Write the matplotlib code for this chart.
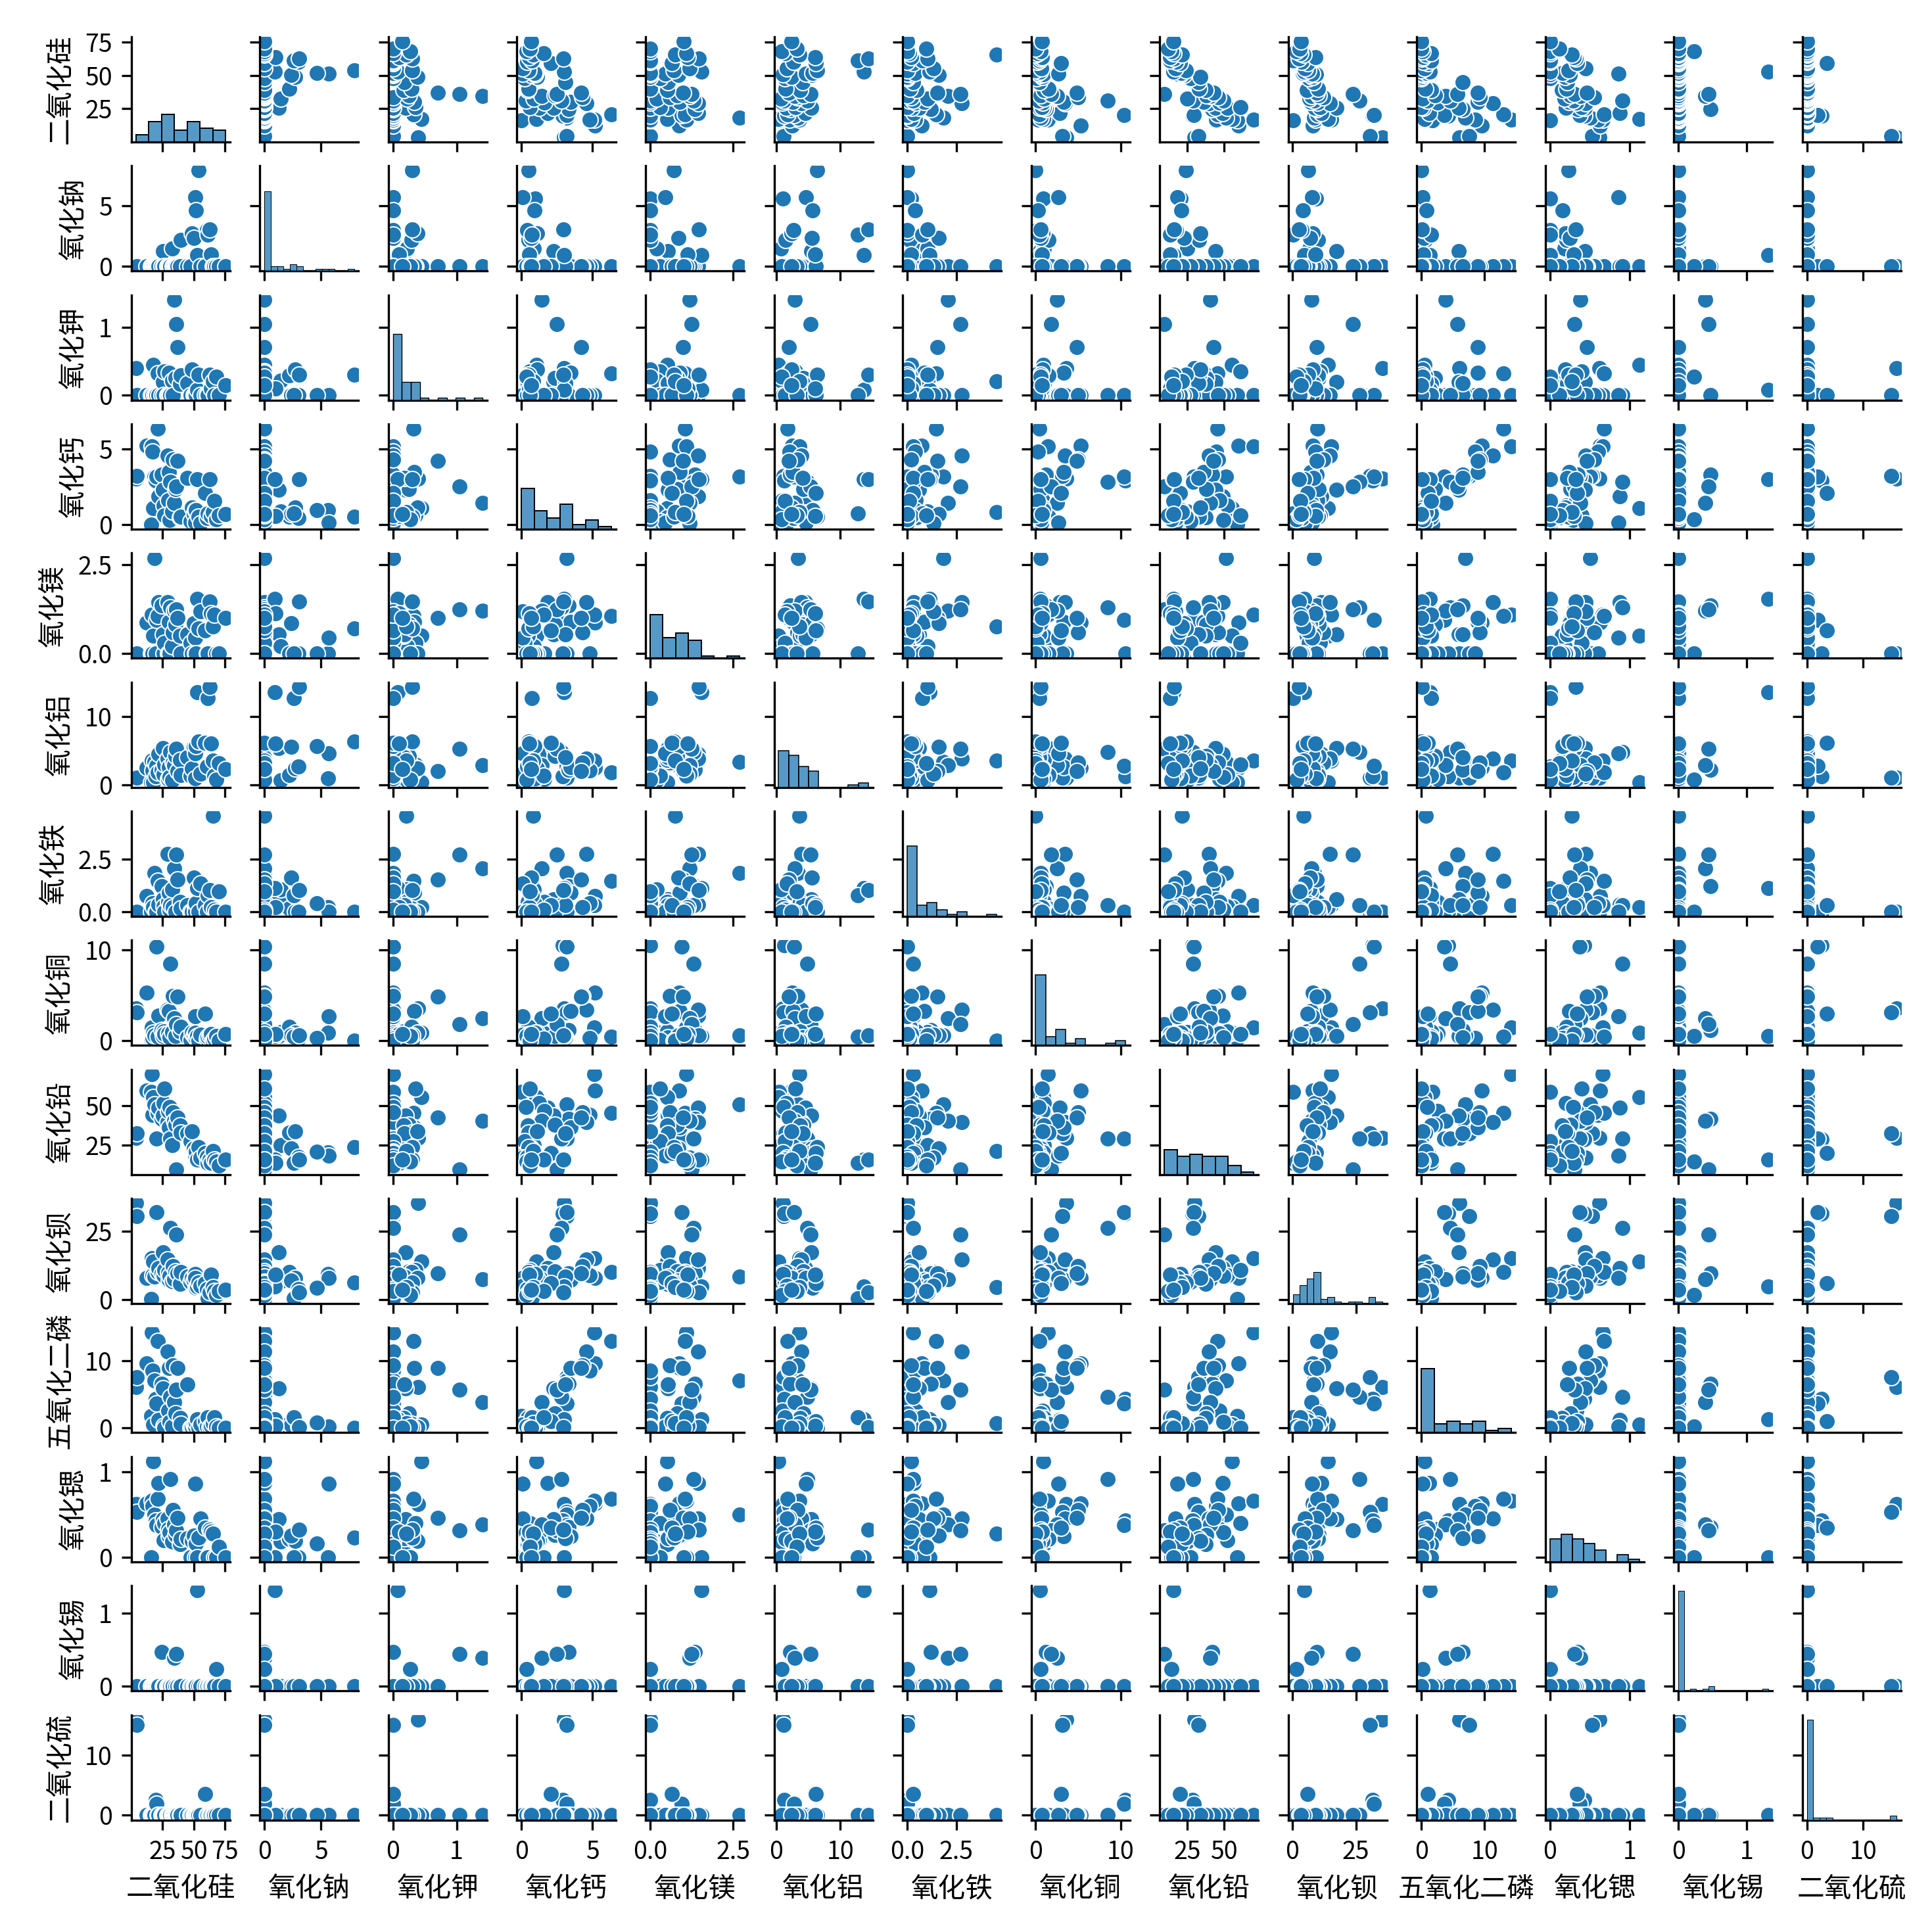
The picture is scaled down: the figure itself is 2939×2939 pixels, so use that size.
import pandas as pd
import seaborn as sns
import matplotlib
matplotlib.use("Agg")
import matplotlib.pyplot as plt

# 铅钡玻璃 化学成分 (49 个采样点, 空缺记为 0)
二氧化硅 = [3.72, 4.61, 12.2, 16.6, 16.2, 17.0, 17.5, 18.4, 19.8, 20.1, 21.0, 22.0, 24.6, 25.5, 25.9, 26.4, 29.1,
         29.6, 30.0, 30.9, 31.3, 32.7, 33.5, 34.4, 35.3, 36.2, 37.1, 38.9, 39.8, 45.1, 47.8, 48.7, 50.4, 51.0,
         51.3, 51.7, 53.0, 53.8, 55.3, 59.3, 60.5, 61.1, 62.9, 63.8, 65.6, 66.5, 68.2, 70.0, 75.5]
氧化钠 = [0, 0, 0, 0, 0, 0, 0, 0, 0, 0, 0, 0, 0, 1.26, 0, 0, 0, 0, 0, 0, 0, 1.45, 0, 0, 0, 0, 0, 0, 2.2, 0, 0,
       2.7, 2.35, 5.6, 5.7, 4.64, 0.9, 7.92, 0, 0, 3.0, 2.6, 3.05, 0.95, 0, 0, 0, 0, 0]
氧化钾 = [0.40, 0, 0, 0, 0, 0, 0.45, 0, 0, 0, 0.32, 0, 0, 0.20, 0, 0.35, 0, 0, 0.33, 0, 0, 0.22, 0, 1.41, 0.25,
       1.05, 0.71, 0.17, 0.29, 0.18, 0, 0.38, 0, 0, 0, 0, 0.08, 0.30, 0, 0, 0, 0, 0.30, 0.10, 0.21, 0, 0.27, 0,
       0.15]
氧化钙 = [3.01, 3.19, 5.18, 5.15, 0, 4.8, 1.05, 3.16, 2.9, 3.16, 6.32, 1.84, 3.3, 2.27, 1.25, 0.6, 4.55, 1.6, 3.46,
       0.3, 2.8, 0.85, 4.3, 1.4, 2.35, 2.5, 4.19, 0.45, 0.51, 3.09, 0.2, 1.1, 0.7, 0.95, 0.1, 0.92, 3.0, 0.5,
       0.07, 2.06, 0.4, 0.74, 2.97, 0.55, 0.8, 1.54, 0.35, 0.6, 0.66]
氧化镁 = [0, 0, 0.88, 1.10, 0, 0, 0.51, 2.70, 0, 0.95, 1.05, 1.45, 1.35, 0.54, 0, 0.3, 1.45, 0, 0.9, 0, 1.3, 0.2,
       0.6, 1.2, 0.82, 1.25, 1.0, 0.51, 0, 0.54, 0.3, 0, 0.85, 0, 0.45, 0, 1.55, 0.71, 1.19, 0.65, 0, 0, 1.47,
       1.13, 0.76, 1.1, 0, 0, 1.01]
氧化铝 = [1.06, 1.11, 2.5, 3.6, 0.45, 2.1, 0.37, 3.4, 1.3, 2.8, 1.8, 4.5, 2.2, 5.4, 1.6, 3.0, 3.9, 0.9, 2.6, 1.2,
       4.8, 0.7, 3.3, 2.9, 4.2, 5.3, 2.0, 3.7, 1.5, 4.1, 1.4, 2.4, 5.6, 1.0, 4.6, 5.7, 13.6, 6.4, 1.7, 6.2, 2.7,
       12.7, 14.34, 6.1, 3.6, 1.4, 0.8, 3.2, 2.35]
氧化铁 = [0, 0, 0.73, 0.3, 0, 0.4, 0.2, 1.86, 0, 0, 1.48, 0.35, 1.21, 0.6, 0.25, 0, 2.77, 0.45, 0.89, 0.1, 0.3,
       1.05, 0.2, 2.07, 0, 2.72, 1.54, 0.46, 0.15, 0.3, 0, 0, 1.62, 0.2, 0, 0.4, 1.13, 0, 1.34, 0.3, 0, 0.78,
       1.03, 0.2, 4.57, 0.1, 0, 0.98, 0]
氧化铜 = [3.6, 3.14, 5.34, 1.46, 0.2, 0.3, 0.9, 0.6, 10.56, 10.41, 0.45, 2.8, 1.2, 0.5, 1.0, 0.7, 3.45, 0.8, 3.3,
       0.35, 8.5, 0.95, 4.98, 2.5, 0.55, 1.8, 4.85, 1.0, 1.5, 0.4, 0.1, 0.85, 0.6, 0.9, 2.67, 0.3, 0.5, 0, 0.65,
       3.0, 0.2, 0.45, 0.6, 0.73, 0, 0.25, 0.55, 0, 0.73]
氧化铅 = [29.9, 32.5, 59.9, 70.2, 58.9, 44.5, 55.4, 51.1, 28.7, 29.5, 45.5, 49.0, 41.9, 44.1, 52.0, 61.0, 39.8,
       47.0, 36.3, 49.5, 29.2, 25.0, 46.0, 40.5, 38.0, 9.5, 42.8, 37.5, 33.0, 32.8, 27.5, 34.0, 22.9, 20.5, 18.6,
       21.0, 15.8, 24.0, 17.0, 20.0, 17.5, 13.7, 16.0, 13.7, 21.5, 15.8, 14.5, 12.0, 15.8]
氧化钡 = [35.45, 30.62, 8.0, 15.2, 0.2, 9.0, 14.0, 8.5, 31.6, 32.1, 10.0, 11.5, 9.5, 17.3, 8.8, 10.9, 14.8, 9.8,
       7.2, 8.6, 26.4, 6.8, 12.2, 7.5, 10.4, 23.8, 9.6, 5.7, 10.2, 8.4, 6.5, 8.0, 7.0, 9.3, 7.8, 4.2, 4.8, 6.3,
       5.0, 6.0, 3.8, 0.3, 2.65, 9.2, 4.5, 3.1, 1.5, 3.0, 3.5]
五氧化二磷 = [6.04, 7.56, 9.6, 14.2, 1.8, 8.5, 0.5, 7.0, 4.3, 3.6, 12.95, 1.2, 6.56, 5.9, 0.3, 0, 11.3, 2.6, 8.9,
         0.9, 4.6, 0.2, 9.3, 3.8, 2.2, 5.7, 8.9, 1.5, 0.6, 6.5, 0, 0.15, 0.4, 0, 0.2, 0.8, 1.3, 0, 0.5, 1.0, 0.25,
         1.6, 0.1, 0.3, 0.7, 1.6, 0.2, 0, 0]
氧化锶 = [0.62, 0.53, 0.63, 0.66, 0, 0.6, 1.12, 0.5, 0.43, 0.37, 0.68, 0.87, 0.35, 0.44, 0.2, 0.4, 0.45, 0.33,
       0.24, 0.29, 0.91, 0.18, 0.55, 0.38, 0.26, 0.31, 0.46, 0.15, 0.21, 0.22, 0, 0.19, 0.25, 0, 0.86, 0.16, 0,
       0.23, 0.45, 0.34, 0, 0, 0.32, 0.30, 0.27, 0, 0, 0.12, 0]
氧化锡 = [0, 0, 0, 0, 0, 0, 0, 0, 0, 0, 0, 0, 0.47, 0, 0, 0, 0, 0, 0, 0, 0, 0, 0, 0.39, 0, 0.44, 0, 0, 0, 0, 0, 0,
       0, 0, 0, 0, 1.31, 0, 0, 0, 0, 0, 0, 0, 0, 0, 0.23, 0, 0]
二氧化硫 = [15.95, 15.03, 0, 0, 0, 0, 0, 0, 2.58, 1.85, 0, 0, 0, 0, 0, 0, 0, 0, 0, 0, 0, 0, 0, 0, 0, 0, 0, 0, 0,
         0, 0, 0, 0, 0, 0, 0, 0, 0, 0, 3.5, 0, 0, 0, 0, 0, 0, 0, 0, 0]

data = pd.DataFrame({
    '二氧化硅': 二氧化硅, '氧化钠': 氧化钠, '氧化钾': 氧化钾, '氧化钙': 氧化钙,
    '氧化镁': 氧化镁, '氧化铝': 氧化铝, '氧化铁': 氧化铁, '氧化铜': 氧化铜,
    '氧化铅': 氧化铅, '氧化钡': 氧化钡, '五氧化二磷': 五氧化二磷, '氧化锶': 氧化锶,
    '氧化锡': 氧化锡, '二氧化硫': 二氧化硫,
})

# 每个成分的刻度
刻度 = [[25, 50, 75], [0, 5], [0, 1], [0, 5], [0.0, 2.5], [0, 10], [0.0, 2.5],
      [0, 10], [25, 50], [0, 25], [0, 10], [0, 1], [0, 1], [0, 10]]

# 中文字体
plt.rcParams['font.family'] = ['Noto Sans CJK SC', 'DejaVu Sans']
plt.rcParams['axes.unicode_minus'] = False
plt.rcParams['xtick.labelsize'] = 9
plt.rcParams['ytick.labelsize'] = 9

g = sns.pairplot(data, height=0.7)

n = len(data.columns)
for i in range(n):
    for j in range(n):
        ax = g.axes[i, j]
        ax.set_xticks(刻度[j])
        ax.set_yticks(刻度[i])

g.figure.set_size_inches(2939 / 300, 2939 / 300)
g.figure.subplots_adjust(left=0.068, right=0.984, top=0.981, bottom=0.058,
                         wspace=0.303, hspace=0.2275)
g.figure.savefig('out.png', dpi=300)
